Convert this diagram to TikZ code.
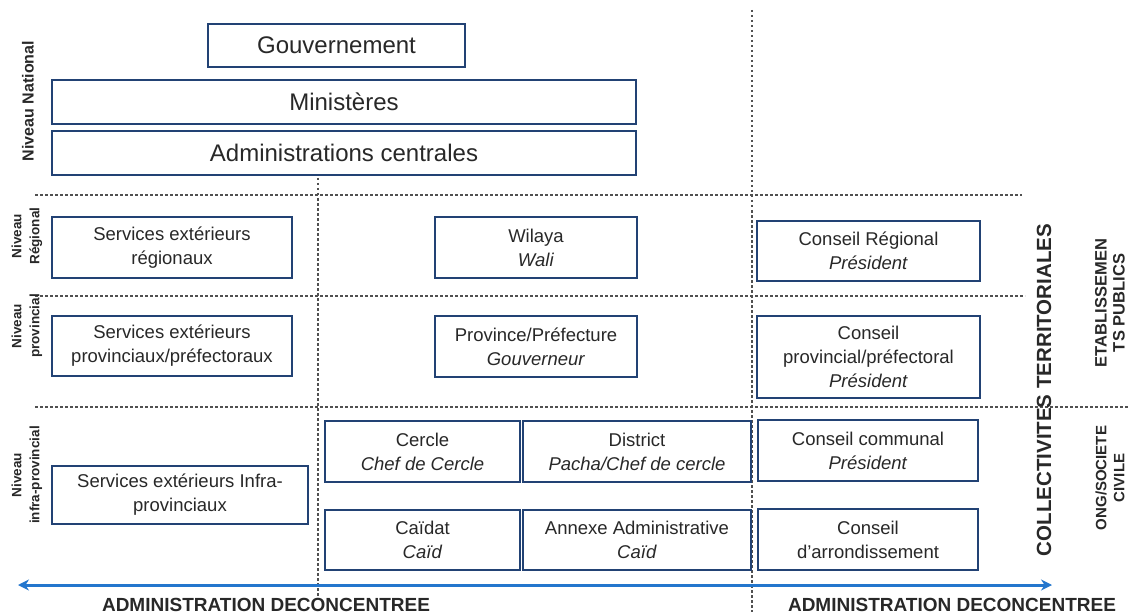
\documentclass[tikz,border=0pt]{standalone}
\usepackage{fontspec}
\setmainfont{Liberation Sans}
\usetikzlibrary{arrows.meta}
\definecolor{boxline}{RGB}{34,66,116}
\definecolor{txt}{RGB}{40,40,40}
\definecolor{dots}{RGB}{80,80,80}
\definecolor{axisblue}{RGB}{35,118,205}
\begin{document}
\begin{tikzpicture}[x=1pt,y=-1pt,
  box/.style={draw=boxline, line width=2.5pt, fill=white, text=txt, align=center,
    inner sep=0pt, font=\fontsize{18.5}{24}\selectfont},
  bigbox/.style={box, font=\fontsize{24}{28}\selectfont},
  sepline/.style={draw=dots, line width=1.5pt, dash pattern=on 2.5pt off 2.5pt},
  lvl/.style={rotate=90, text=txt, align=center, inner sep=0pt,
    font=\bfseries\fontsize{13.5}{18}\selectfont},
  sidelbl/.style={rotate=90, text=txt, align=center, inner sep=0pt},
  bottomlbl/.style={text=txt, inner sep=0pt, font=\bfseries\fontsize{19}{22}\selectfont},
  axisline/.style={draw=axisblue, line width=3pt,
    {Stealth[length=11pt,width=11pt]}-{Stealth[length=11pt,width=11pt]}}]
\useasboundingbox (0,0) rectangle (1133,615);

% level separators and column separators
\draw[sepline] (35,195) -- (1022,195);
\draw[sepline] (35,296) -- (1025,296);
\draw[sepline] (35,407) -- (1128,407);
\draw[sepline] (318,178) -- (318,598);
\draw[sepline] (752,10) -- (752,612);

% national level
\node[bigbox, minimum width=257pt, minimum height=43pt] (gouv) at (336.5,45.5) {Gouvernement};
\node[bigbox, minimum width=584pt, minimum height=44pt] (mini) at (344,102) {Ministères};
\node[bigbox, minimum width=584pt, minimum height=44pt] (admc) at (344,153) {Administrations centrales};

% regional level
\node[box, minimum width=240pt, minimum height=61pt] (serreg) at (172,247.5) {Services extérieurs\\régionaux};
\node[box, minimum width=202pt, minimum height=61pt] (wilaya) at (536,247.5) {Wilaya\\\textit{Wali}};
\node[box, minimum width=223pt, minimum height=60pt] (creg) at (868.5,251) {Conseil Régional\\\textit{Président}};

% provincial level
\node[box, minimum width=240pt, minimum height=60pt] (serprov) at (172,346) {Services extérieurs\\provinciaux/préfectoraux};
\node[box, minimum width=202pt, minimum height=61pt] (prov) at (536,346.5) {Province/Préfecture\\\textit{Gouverneur}};
\node[box, minimum width=223pt, minimum height=82pt] (cprov) at (868.5,357) {Conseil\\provincial/préfectoral\\\textit{Président}};

% infra-provincial level
\node[box, minimum width=256pt, minimum height=58pt] (serinf) at (180,495) {Services extérieurs Infra-\\provinciaux};
\node[box, minimum width=195pt, minimum height=61pt] (cercle) at (422.5,451.5) {Cercle\\\textit{Chef de Cercle}};
\node[box, minimum width=228pt, minimum height=61pt] (district) at (637,451.5) {District\\\textit{Pacha/Chef de cercle}};
\node[box, minimum width=220pt, minimum height=61pt] (ccom) at (868,450.5) {Conseil communal\\\textit{Président}};
\node[box, minimum width=195pt, minimum height=60pt] (caidat) at (422.5,540) {Caïdat\\\textit{Caïd}};
\node[box, minimum width=228pt, minimum height=60pt] (annexe) at (637,540) {Annexe Administrative\\\textit{Caïd}};
\node[box, minimum width=220pt, minimum height=61pt] (carr) at (868,539.5) {Conseil\\d’arrondissement};

% level labels
\node[lvl, font=\bfseries\fontsize{16}{18}\selectfont] (lnat) at (28,101) {Niveau National};
\node[lvl] (lreg) at (27,236) {Niveau\\Régional};
\node[lvl] (lprov) at (27,326) {Niveau\\provincial};
\node[lvl] (linf) at (27,475) {Niveau\\infra-provincial};

% right-hand labels
\node[sidelbl, font=\bfseries\fontsize{20.5}{24}\selectfont] (coll) at (1044,390) {COLLECTIVITES TERRITORIALES};
\node[sidelbl, font=\bfseries\fontsize{16.5}{18}\selectfont] (etab) at (1110,303) {ETABLISSEMEN\\TS PUBLICS};
\node[sidelbl, font=\bfseries\fontsize{15}{18}\selectfont] (ong) at (1110,478) {ONG/SOCIETE\\CIVILE};

% horizontal axis
\coordinate (axl) at (18,585);
\coordinate (axr) at (1052,585);
\draw[axisline] (axl) -- (axr);
\node[bottomlbl] (adl) at (266,605) {ADMINISTRATION DECONCENTREE};
\node[bottomlbl] (adr) at (952,605) {ADMINISTRATION DECONCENTREE};
\end{tikzpicture}
\end{document}
